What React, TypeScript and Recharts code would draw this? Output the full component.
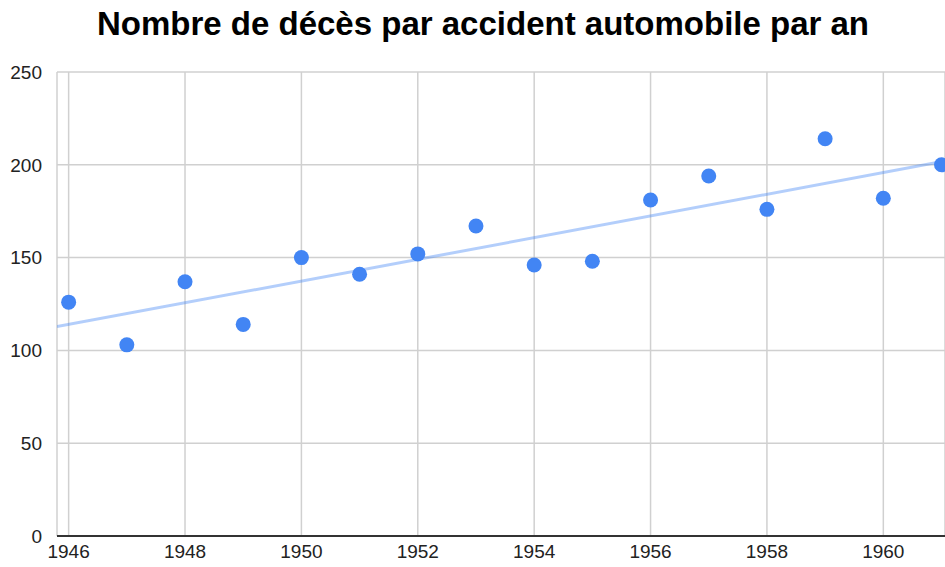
import React from "react";
import { ComposedChart, Scatter, Line, XAxis, YAxis, CartesianGrid } from "recharts";

const years = [1946, 1947, 1948, 1949, 1950, 1951, 1952, 1953, 1954, 1955, 1956, 1957, 1958, 1959, 1960, 1961];
const deaths = [126, 103, 137, 114, 150, 141, 152, 167, 146, 148, 181, 194, 176, 214, 182, 200];
const trendYears = [1945.8, 1961.06];
const trendValues = [112.8, 202];
const xTicks = [1946, 1948, 1950, 1952, 1954, 1956, 1958, 1960];
const yTicks = [0, 50, 100, 150, 200, 250];
const title = "Nombre de décès par accident automobile par an";

const points = years.map((y, i) => ({ year: y, deaths: deaths[i] }));
const trend = trendYears.map((y, i) => ({ year: y, trend: trendValues[i] }));

const font = "'Liberation Sans', Arial, sans-serif";

export default function App() {
  return (
    <div style={{ position: "absolute", left: 0, top: 0, width: 945, height: 567, background: "#fff", overflow: "hidden" }}>
      <div
        style={{
          position: "absolute",
          left: 0,
          width: 966,
          top: 4.5,
          textAlign: "center",
          fontFamily: font,
          fontWeight: "bold",
          fontSize: 33,
          color: "#000",
          whiteSpace: "nowrap",
        }}
      >
        {title}
      </div>
      <ComposedChart
        width={945}
        height={567}
        margin={{ top: 72, right: 0, bottom: 0, left: 0 }}
        style={{ position: "absolute", left: 0, top: 0 }}
      >
        <CartesianGrid stroke="#d0d0d0" strokeWidth={1.5} vertical horizontal />
        <XAxis
          type="number"
          dataKey="year"
          domain={[1945.8, 1961.06]}
          ticks={xTicks}
          allowDataOverflow
          height={31}
          tickLine={false}
          axisLine={{ stroke: "#333", strokeWidth: 2 }}
          tick={{ fill: "#222", fontSize: 19, fontFamily: font }}
          tickMargin={3}
        />
        <YAxis
          type="number"
          domain={[0, 250]}
          ticks={yTicks}
          width={57}
          axisLine={false}
          tickLine={false}
          tick={{ fill: "#222", fontSize: 19, fontFamily: font }}
          tickMargin={9}
        />
        <Line
          data={trend}
          dataKey="trend"
          type="linear"
          stroke="#4285F4"
          strokeOpacity={0.4}
          strokeWidth={3}
          dot={false}
          activeDot={false}
          isAnimationActive={false}
        />
        <Scatter
          data={points}
          dataKey="deaths"
          fill="#4285F4"
          isAnimationActive={false}
          shape={(p: any) => <circle cx={p.cx} cy={p.cy} r={7.5} fill="#4285F4" />}
        />
      </ComposedChart>
    </div>
  );
}
